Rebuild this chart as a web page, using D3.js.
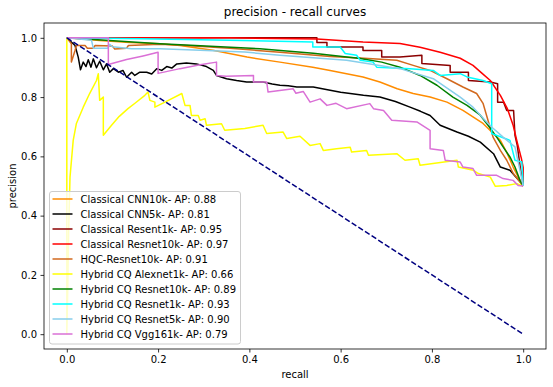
<!DOCTYPE html>
<html>
<head>
<meta charset="utf-8">
<script src="https://cdn.jsdelivr.net/npm/d3@7"></script>
<style>
  body { margin: 0; background: #fff; }
  text { font-family: "DejaVu Sans", sans-serif; fill: #000; }
</style>
</head>
<body>
<div id="container"></div>
<script>
/* DATA: [recall, precision] pairs */
const cnn10k = [[0,1.0],[0.072,0.991],[0.138,0.984],[0.204,0.980],[0.248,0.974],[0.320,0.958],[0.395,0.935],[0.467,0.918],[0.539,0.901],[0.577,0.890],[0.649,0.868],[0.686,0.851],[0.724,0.828],[0.759,0.812],[0.796,0.800],[0.833,0.783],[0.868,0.755],[0.890,0.733],[0.912,0.711],[0.934,0.678],[0.950,0.654],[0.965,0.610],[0.978,0.564],[0.993,0.519],[1.0,0.5]];

const cnn5k = [[0,1.0],[0.018,0.974],[0.025,0.935],[0.030,0.892],[0.036,0.918],[0.042,0.903],[0.047,0.926],[0.053,0.901],[0.058,0.929],[0.065,0.899],[0.072,0.921],[0.080,0.892],[0.087,0.912],[0.094,0.884],[0.102,0.896],[0.113,0.884],[0.123,0.890],[0.131,0.867],[0.142,0.884],[0.149,0.873],[0.160,0.884],[0.175,0.884],[0.186,0.878],[0.197,0.896],[0.208,0.890],[0.219,0.903],[0.230,0.898],[0.241,0.912],[0.262,0.915],[0.284,0.912],[0.306,0.903],[0.321,0.890],[0.328,0.873],[0.350,0.862],[0.372,0.856],[0.394,0.851],[0.430,0.851],[0.450,0.844],[0.467,0.840],[0.485,0.838],[0.504,0.834],[0.540,0.834],[0.577,0.823],[0.600,0.816],[0.621,0.812],[0.650,0.806],[0.686,0.800],[0.720,0.785],[0.752,0.766],[0.775,0.752],[0.796,0.738],[0.818,0.705],[0.855,0.682],[0.880,0.668],[0.906,0.648],[0.935,0.609],[0.950,0.564],[0.971,0.553],[0.997,0.508],[1.0,0.5]];

const resent1k = [[0,1.0],[0.548,1.0],[0.548,0.984],[0.570,0.984],[0.570,0.969],[0.649,0.969],[0.649,0.957],[0.690,0.957],[0.690,0.935],[0.730,0.935],[0.778,0.941],[0.778,0.913],[0.840,0.907],[0.840,0.884],[0.880,0.884],[0.880,0.856],[0.928,0.851],[0.944,0.845],[0.944,0.783],[0.957,0.783],[0.964,0.755],[0.979,0.755],[0.982,0.671],[0.987,0.637],[0.993,0.570],[1.0,0.5]];

const resnet10k = [[0,1.0],[0.357,1.0],[0.548,0.996],[0.649,0.986],[0.730,0.981],[0.774,0.968],[0.818,0.951],[0.862,0.931],[0.890,0.907],[0.910,0.880],[0.928,0.856],[0.950,0.806],[0.965,0.762],[0.978,0.705],[0.987,0.647],[0.996,0.593],[1.0,0.563],[1.0,0.5]];

const hqcResnet10k = [[0,1.0],[0.010,0.980],[0.010,0.918],[0.018,0.957],[0.021,0.974],[0.040,0.974],[0.045,0.965],[0.058,0.965],[0.062,0.974],[0.100,0.972],[0.105,0.962],[0.131,0.965],[0.135,0.974],[0.204,0.978],[0.262,0.974],[0.357,0.965],[0.467,0.951],[0.577,0.937],[0.643,0.932],[0.723,0.924],[0.759,0.907],[0.796,0.890],[0.833,0.862],[0.868,0.834],[0.898,0.812],[0.912,0.779],[0.923,0.721],[0.934,0.665],[0.950,0.620],[0.964,0.587],[0.978,0.543],[1.0,0.5]];

const alexnet1k = [[0,1.0],[0,0.0],[0.002,0.15],[0.004,0.35],[0.007,0.530],[0.014,0.654],[0.021,0.711],[0.036,0.766],[0.050,0.812],[0.065,0.856],[0.069,0.879],[0.072,0.789],[0.080,0.800],[0.080,0.671],[0.098,0.705],[0.115,0.735],[0.134,0.761],[0.150,0.780],[0.171,0.806],[0.178,0.817],[0.182,0.789],[0.193,0.783],[0.193,0.766],[0.215,0.783],[0.252,0.812],[0.259,0.772],[0.270,0.772],[0.273,0.738],[0.288,0.738],[0.292,0.722],[0.303,0.727],[0.306,0.705],[0.339,0.710],[0.346,0.688],[0.390,0.694],[0.430,0.705],[0.438,0.677],[0.474,0.682],[0.482,0.660],[0.511,0.668],[0.533,0.637],[0.555,0.643],[0.562,0.620],[0.591,0.626],[0.621,0.631],[0.624,0.615],[0.657,0.620],[0.661,0.604],[0.723,0.609],[0.741,0.587],[0.770,0.592],[0.774,0.570],[0.855,0.587],[0.858,0.564],[0.891,0.553],[0.902,0.542],[0.928,0.530],[0.939,0.499],[0.964,0.502],[0.986,0.508],[1.0,0.5]];

const cqResnet10k = [[0,1.0],[0.204,0.980],[0.423,0.963],[0.540,0.948],[0.643,0.930],[0.690,0.918],[0.730,0.901],[0.774,0.873],[0.811,0.840],[0.846,0.800],[0.877,0.772],[0.906,0.739],[0.923,0.705],[0.942,0.665],[0.956,0.632],[0.971,0.598],[0.982,0.564],[0.993,0.519],[1.0,0.5]];

const cqResnet1k = [[0,1.0],[0.160,0.997],[0.357,0.992],[0.539,0.986],[0.539,0.969],[0.599,0.969],[0.610,0.947],[0.635,0.941],[0.643,0.924],[0.671,0.918],[0.679,0.901],[0.752,0.896],[0.803,0.890],[0.818,0.873],[0.862,0.879],[0.877,0.868],[0.912,0.856],[0.931,0.845],[0.931,0.677],[0.971,0.654],[0.982,0.587],[0.997,0.581],[1.0,0.5]];

const cqResnet5k = [[0,1.0],[0.054,0.992],[0.058,0.965],[0.090,0.965],[0.094,0.978],[0.100,0.970],[0.142,0.963],[0.204,0.963],[0.292,0.958],[0.390,0.952],[0.467,0.941],[0.613,0.924],[0.730,0.896],[0.803,0.862],[0.862,0.800],[0.890,0.766],[0.920,0.716],[0.934,0.695],[0.956,0.665],[0.982,0.632],[0.993,0.553],[1.0,0.5]];

const cqVgg161k = [[0,1.0],[0.091,1.0],[0.091,0.910],[0.131,0.927],[0.167,0.939],[0.200,0.951],[0.200,0.880],[0.248,0.896],[0.292,0.909],[0.328,0.918],[0.328,0.873],[0.349,0.870],[0.409,0.873],[0.409,0.851],[0.438,0.851],[0.441,0.817],[0.496,0.828],[0.502,0.813],[0.518,0.819],[0.533,0.783],[0.555,0.794],[0.570,0.772],[0.590,0.779],[0.613,0.761],[0.664,0.778],[0.672,0.761],[0.694,0.755],[0.712,0.722],[0.767,0.716],[0.796,0.688],[0.796,0.626],[0.825,0.620],[0.829,0.587],[0.862,0.581],[0.868,0.564],[0.890,0.559],[0.898,0.536],[0.942,0.536],[0.956,0.525],[0.978,0.519],[0.989,0.502],[1.0,0.5]];

const chanceLine = [[0,1],[1,0]];

const seriesLabels = ["Classical CNN10k", "Classical CNN5k", "Classical Resent1k", "Classical Resnet10k",
  "HQC-Resnet10k", "Hybrid CQ Alexnet1k", "Hybrid CQ Resnet10k", "Hybrid CQ Resnet1k",
  "Hybrid CQ Resnet5k", "Hybrid CQ Vgg161k"];
const seriesAP = [0.88, 0.81, 0.95, 0.97, 0.91, 0.66, 0.89, 0.93, 0.90, 0.79];
const seriesData = [cnn10k, cnn5k, resent1k, resnet10k, hqcResnet10k, alexnet1k,
  cqResnet10k, cqResnet1k, cqResnet5k, cqVgg161k];
const seriesColors = ["darkorange", "black", "darkred", "red", "chocolate", "yellow",
  "green", "cyan", "skyblue", "orchid"];
const tickValues = [0, 0.2, 0.4, 0.6, 0.8, 1.0];

/* CONSTANTS */
const width = 553, height = 387,
  margin = { top: 23, right: 7, bottom: 38, left: 44 };

const svg = d3.select("#container")
  .append("svg")
  .attr("width", width)
  .attr("height", height);

// SCALES
const x = d3.scaleLinear().domain([-0.05, 1.05]).range([margin.left, width - margin.right]);
const y = d3.scaleLinear().domain([-0.05, 1.05]).range([height - margin.bottom, margin.top]);

svg.append("clipPath").attr("id", "plotclip")
  .append("rect")
  .attr("x", margin.left).attr("y", margin.top)
  .attr("width", width - margin.left - margin.right)
  .attr("height", height - margin.top - margin.bottom);

const lineGen = d3.line().x(d => x(d[0])).y(d => y(d[1]));

// CURVES
const curves = svg.append("g").attr("clip-path", "url(#plotclip)");
curves.selectAll("path.curve")
  .data(seriesData)
  .join("path")
  .attr("class", "curve")
  .attr("d", d => lineGen(d))
  .attr("fill", "none")
  .attr("stroke", (d, i) => seriesColors[i])
  .attr("stroke-width", 1.5)
  .attr("stroke-linejoin", "round");

// dashed no-skill line
curves.append("path")
  .attr("d", lineGen(chanceLine))
  .attr("fill", "none")
  .attr("stroke", "navy")
  .attr("stroke-width", 1.5)
  .attr("stroke-dasharray", "5.5,2.4");

// AXES
const xAxis = svg.append("g")
  .attr("transform", `translate(0, ${height - margin.bottom})`)
  .call(d3.axisBottom(x).tickValues(tickValues).tickFormat(d3.format(".1f")).tickSizeOuter(0).tickSize(3.5).tickPadding(3.5));
const yAxis = svg.append("g")
  .attr("transform", `translate(${margin.left}, 0)`)
  .call(d3.axisLeft(y).tickValues(tickValues).tickFormat(d3.format(".1f")).tickSizeOuter(0).tickSize(3.5).tickPadding(3.5));
[xAxis, yAxis].forEach(a => {
  a.selectAll("text").attr("font-size", 10).attr("font-family", "DejaVu Sans");
  a.selectAll("line").attr("stroke", "#000").attr("stroke-width", 0.8);
  a.select(".domain").remove();
});

// frame
svg.append("rect")
  .attr("x", margin.left).attr("y", margin.top)
  .attr("width", width - margin.left - margin.right)
  .attr("height", height - margin.top - margin.bottom)
  .attr("fill", "none").attr("stroke", "#000").attr("stroke-width", 0.8);

// TITLES
svg.append("text")
  .attr("x", (margin.left + width - margin.right) / 2).attr("y", 16)
  .attr("text-anchor", "middle").attr("font-size", 12)
  .text("precision - recall curves");
svg.append("text")
  .attr("x", (margin.left + width - margin.right) / 2).attr("y", 378)
  .attr("text-anchor", "middle").attr("font-size", 10)
  .text("recall");
svg.append("text")
  .attr("transform", `translate(16, ${(margin.top + height - margin.bottom) / 2}) rotate(-90)`)
  .attr("text-anchor", "middle").attr("font-size", 10)
  .text("precision");

// LEGEND
const legend = svg.append("g").attr("transform", "translate(49.5, 191.5)");
legend.append("rect")
  .attr("width", 191).attr("height", 152.5).attr("rx", 2.5)
  .attr("fill", "white").attr("fill-opacity", 0.8)
  .attr("stroke", "#cccccc").attr("stroke-width", 1);
const rows = legend.selectAll("g.row")
  .data(seriesLabels)
  .join("g")
  .attr("class", "row")
  .attr("transform", (d, i) => `translate(0, ${7.5 + i * 15})`);
rows.append("line")
  .attr("x1", 3).attr("x2", 23)
  .attr("stroke", (d, i) => seriesColors[i])
  .attr("stroke-width", 1.5);
rows.append("text")
  .attr("x", 31).attr("y", 3.6)
  .attr("font-size", 10)
  .text((d, i) => `${d}- AP: ${seriesAP[i].toFixed(2)}`);
</script>
</body>
</html>
